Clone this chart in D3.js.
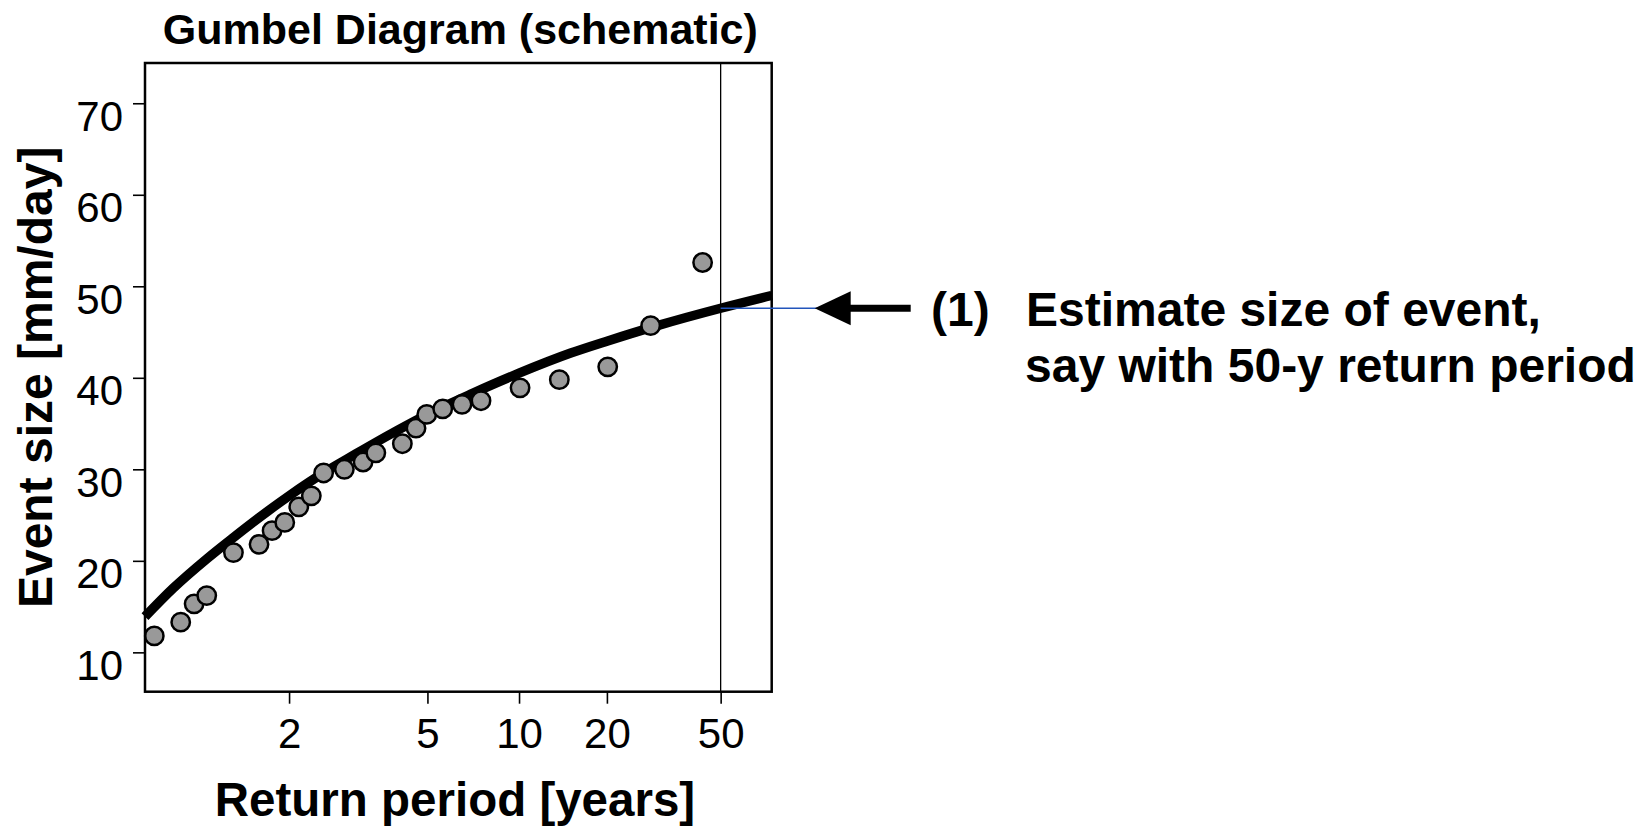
<!DOCTYPE html>
<html>
<head>
<meta charset="utf-8">
<script src="https://cdn.jsdelivr.net/npm/d3@7"></script>
<style>
  html, body { margin: 0; padding: 0; background: #fff; }
  svg { display: block; font-family: "Liberation Sans", Arial, Helvetica, sans-serif; }
</style>
</head>
<body>
<svg id="chart" width="1642" height="826"></svg>
<script>
// Observed annual maxima: return period [years] and event size [mm/day]
const returnPeriods = [1.141, 1.228, 1.284, 1.345, 1.504, 1.701, 1.821, 1.952, 2.115, 2.279,
                       2.458, 2.806, 3.177, 3.465, 4.172, 4.602, 4.975, 5.596, 6.464, 7.463,
                       10.08, 13.71, 20.13, 28.40, 43.2];
const eventSizes    = [11.8, 13.3, 15.3, 16.2, 20.9, 21.8, 23.3, 24.2, 25.9, 27.1,
                       29.6, 30.0, 30.8, 31.8, 32.8, 34.5, 36.0, 36.6, 37.1, 37.5,
                       38.9, 39.8, 41.2, 45.7, 52.6];

// Fitted extreme-value curve, sampled along the return-period axis
const fitPeriods = [1.117, 1.2, 1.35, 1.5, 1.8, 2, 2.5, 3, 4, 5, 7, 10, 15, 20, 30, 50, 75.7];
const fitSizes   = [13.9, 17.0, 20.3, 22.5, 25.6, 27.1, 29.8, 31.6, 34.2, 36.0, 38.3, 40.5, 42.7, 44.0, 45.7, 47.6, 49.0];

// Axis ticks and ranges
const xTicks = [2, 5, 10, 20, 50];
const yTicks = [10, 20, 30, 40, 50, 60, 70];
const xRangePeriods = [1.117, 75.7];
const yRange = [5.7, 74.4];

// Design return period and its estimate on the fitted curve
const designPeriod = 50;
const designEstimate = 47.6;

const titleText = "Gumbel Diagram (schematic)";
const xLabel = "Return period [years]";
const yLabel = "Event size [mm/day]";
const noteNumber = "(1)";
const noteLines = ["Estimate size of event,", "say with 50-y return period"];

// ---- layout ----
const plot = { left: 145, right: 771.7, top: 63, bottom: 691.7 };
const svg = d3.select("#chart");

// Gumbel reduced variate of a return period
const gumbel = T => -Math.log(-Math.log(1 - 1 / T));

const xu = d3.scaleLinear()
  .domain(xRangePeriods.map(gumbel))
  .range([plot.left, plot.right]);
const x = T => xu(gumbel(T));

const y = d3.scaleLinear()
  .domain(yRange)
  .range([plot.bottom, plot.top]);

// axes
const xAxis = d3.axisBottom(xu)
  .tickValues(xTicks.map(gumbel))
  .tickFormat((d, i) => xTicks[i])
  .tickSize(12)
  .tickPadding(14);

const yAxis = d3.axisLeft(y)
  .tickValues(yTicks)
  .tickSize(12)
  .tickPadding(10);

const gx = svg.append("g")
  .attr("transform", `translate(0,${plot.bottom})`)
  .call(xAxis);
gx.select(".domain").remove();
gx.selectAll(".tick line").attr("stroke", "#000").attr("stroke-width", 1.6);
gx.selectAll(".tick text")
  .attr("fill", "#000")
  .attr("font-size", 42)
  .attr("font-family", "'Liberation Sans', Arial, sans-serif")
  .attr("dy", "0.71em");

const gy = svg.append("g")
  .attr("transform", `translate(${plot.left},0)`)
  .call(yAxis);
gy.select(".domain").remove();
gy.selectAll(".tick line").attr("stroke", "#000").attr("stroke-width", 1.6);
gy.selectAll(".tick text")
  .attr("fill", "#000")
  .attr("font-size", 42)
  .attr("font-family", "'Liberation Sans', Arial, sans-serif")
  .attr("dy", "0.64em");

// vertical marker at the design return period
svg.append("line")
  .attr("x1", x(designPeriod)).attr("x2", x(designPeriod))
  .attr("y1", plot.top).attr("y2", plot.bottom)
  .attr("stroke", "#000").attr("stroke-width", 1.3);

// fitted curve
const fit = fitPeriods.map((T, i) => ({ T, v: fitSizes[i] }));
svg.append("path")
  .datum(fit)
  .attr("fill", "none")
  .attr("stroke", "#000")
  .attr("stroke-width", 9.5)
  .attr("d", d3.line().x(d => x(d.T)).y(d => y(d.v)).curve(d3.curveMonotoneX));

// observations
const obs = returnPeriods.map((T, i) => ({ T, v: eventSizes[i] }));
svg.append("g")
  .selectAll("circle")
  .data(obs)
  .join("circle")
  .attr("cx", d => x(d.T))
  .attr("cy", d => y(d.v))
  .attr("r", 9.2)
  .attr("fill", "#999999")
  .attr("stroke", "#000")
  .attr("stroke-width", 2.5);

// plot frame
svg.append("rect")
  .attr("x", plot.left).attr("y", plot.top)
  .attr("width", plot.right - plot.left)
  .attr("height", plot.bottom - plot.top)
  .attr("fill", "none")
  .attr("stroke", "#000")
  .attr("stroke-width", 2.5);

// read-off line and arrow pointing to the estimate
const yEst = y(designEstimate);
const tipX = plot.right + 43;
svg.append("line")
  .attr("x1", x(designPeriod)).attr("x2", tipX + 4)
  .attr("y1", yEst).attr("y2", yEst)
  .attr("stroke", "#2255bb").attr("stroke-width", 1.6);

svg.append("line")
  .attr("x1", tipX + 30).attr("x2", tipX + 96)
  .attr("y1", yEst).attr("y2", yEst)
  .attr("stroke", "#000").attr("stroke-width", 7);

svg.append("path")
  .attr("d", `M${tipX},${yEst} L${tipX + 36},${yEst - 17} L${tipX + 36},${yEst + 17} Z`)
  .attr("fill", "#000");

// annotation text
const note = svg.append("g")
  .attr("font-weight", "bold")
  .attr("font-size", 48)
  .attr("fill", "#000");
note.append("text")
  .attr("x", 931).attr("y", yEst + 18)
  .text(noteNumber);
note.append("text")
  .attr("x", 1026).attr("y", yEst + 18)
  .text(noteLines[0]);
note.append("text")
  .attr("x", 1025).attr("y", yEst + 74)
  .text(noteLines[1]);

// titles
svg.append("text")
  .attr("x", (plot.left + plot.right) / 2 + 2).attr("y", 44)
  .attr("text-anchor", "middle")
  .attr("font-weight", "bold")
  .attr("font-size", 43)
  .text(titleText);

svg.append("text")
  .attr("x", 455).attr("y", 816)
  .attr("text-anchor", "middle")
  .attr("font-weight", "bold")
  .attr("font-size", 47.5)
  .text(xLabel);

svg.append("text")
  .attr("transform", `translate(52,${(plot.top + plot.bottom) / 2}) rotate(-90)`)
  .attr("text-anchor", "middle")
  .attr("font-weight", "bold")
  .attr("font-size", 48)
  .text(yLabel);
</script>
</body>
</html>
